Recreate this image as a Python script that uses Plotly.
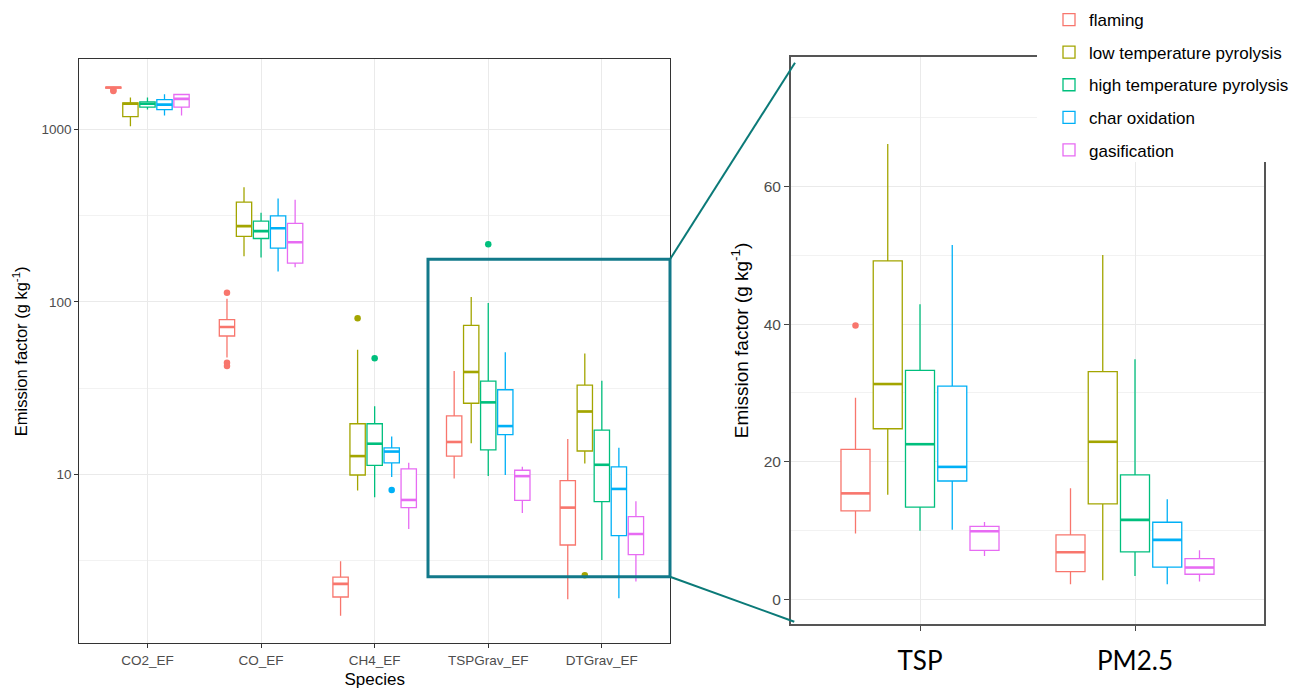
import plotly.graph_objects as go

W, H = 1295, 691

species = ["CO2_EF", "CO_EF", "CH4_EF", "TSPGrav_EF", "DTGrav_EF"]
pm_labels = ["TSP", "PM2.5"]
phases = ["flaming", "low temperature pyrolysis", "high temperature pyrolysis",
          "char oxidation", "gasification"]
colors = ["#F8766D", "#A3A500", "#00BF7D", "#00B0F6", "#E76BF3"]

# Species panel (log scale): one row per combustion phase, one column per species
sp_lower = [[1720, 47.6, 1.52, 9.5, 1.9],
            [1040, 184, 8.1, 15.2, 11.6],
            [1300, 181, 7.4, 9.8, 3.2],
            [1200, 150, 9.7, 9.95, 1.92],
            [1200, 159, 4.84, 6.0, 2.4]]
sp_q1 = [[1735, 63.5, 1.955, 12.8, 3.91],
         [1185, 240, 9.95, 25.9, 13.7],
         [1345, 233, 11.3, 13.9, 6.97],
         [1300, 205, 11.7, 17.05, 4.43],
         [1345, 168, 6.44, 7.1, 3.44]]
sp_median = [[1745, 71.6, 2.33, 15.45, 6.44],
             [1405, 275, 12.8, 39.3, 23.2],
             [1405, 257, 15.1, 26.2, 11.4],
             [1390, 267, 13.6, 19.1, 8.26],
             [1500, 221.6, 7.13, 9.8, 4.53]]
sp_q3 = [[1755, 79.0, 2.55, 21.9, 9.23],
         [1420, 379, 19.7, 73.2, 33.0],
         [1440, 294, 19.7, 34.8, 18.1],
         [1485, 315, 14.3, 31.0, 11.1],
         [1590, 285.5, 10.8, 10.6, 5.71]]
sp_upper = [[1765, 104.5, 3.15, 39.8, 16.1],
            [1530, 461, 52.9, 106.8, 50.2],
            [1530, 329, 24.9, 98.6, 35.0],
            [1595, 398, 16.6, 51.1, 14.3],
            [1600, 391, 11.7, 11.1, 7.0]]
# outliers: (phase index, species index, value)
sp_out_phase = [0, 0, 0, 0, 0, 1, 1, 2, 2, 3]
sp_out_species = [0, 0, 1, 1, 1, 2, 4, 2, 3, 2]
sp_out_value = [1665, 1690, 113, 44.5, 42.5, 80.4, 2.61, 47.2, 216, 8.14]

# Particulate panel (linear scale): columns TSP, PM2.5
pm_lower = [[9.55, 2.18], [15.2, 2.76], [9.95, 3.4], [10.1, 2.18], [6.3, 2.57]]
pm_q1 = [[12.85, 4.03], [24.8, 13.87], [13.4, 6.9], [17.2, 4.66], [7.1, 3.64]]
pm_median = [[15.4, 6.84], [31.3, 22.9], [22.55, 11.55], [19.25, 8.63], [9.9, 4.61]]
pm_q3 = [[21.8, 9.36], [49.2, 33.1], [33.3, 18.1], [31.0, 11.2], [10.6, 5.92]]
pm_upper = [[29.3, 16.15], [66.2, 50.06], [42.9, 34.9], [51.5, 14.55], [11.25, 7.13]]
pm_out_phase = [0]
pm_out_species = [0]
pm_out_value = [39.8]

DODGE = 0.15      # spacing between dodged boxes (category units)
BOX_W = 0.135     # box width (category units)


def px(x):
    return x / W


def py(y):
    return 1 - y / H


fig = go.Figure()


def add_panel(xa, ya, lower, q1, med, q3, upper, o_phase, o_cat, o_val, show_legend):
    for g, (name, col) in enumerate(zip(phases, colors)):
        pos = [i + (g - 2) * DODGE for i in range(len(med[g]))]
        fig.add_trace(go.Box(
            x=pos, q1=q1[g], median=med[g], q3=q3[g],
            lowerfence=lower[g], upperfence=upper[g],
            width=BOX_W, whiskerwidth=0, boxpoints=False,
            fillcolor="white", line=dict(color=col, width=1.3),
            name=name, legendgroup=name, showlegend=show_legend,
            xaxis=xa, yaxis=ya, hoverinfo="skip"))
        # thicker median bar, as ggplot draws it
        mx, my = [], []
        for p, m in zip(pos, med[g]):
            mx += [p - BOX_W / 2, p + BOX_W / 2, None]
            my += [m, m, None]
        fig.add_trace(go.Scatter(
            x=mx, y=my, mode="lines", line=dict(color=col, width=2.6),
            legendgroup=name, showlegend=False, xaxis=xa, yaxis=ya,
            hoverinfo="skip"))
        ox = [c + (g - 2) * DODGE for ph, c in zip(o_phase, o_cat) if ph == g]
        oy = [v for ph, v in zip(o_phase, o_val) if ph == g]
        if ox:
            fig.add_trace(go.Scatter(
                x=ox, y=oy, mode="markers",
                marker=dict(color=col, size=6.5, line=dict(width=0)),
                legendgroup=name, showlegend=False, xaxis=xa, yaxis=ya,
                hoverinfo="skip"))


add_panel("x", "y", sp_lower, sp_q1, sp_median, sp_q3, sp_upper,
          sp_out_phase, sp_out_species, sp_out_value, True)
add_panel("x2", "y2", pm_lower, pm_q1, pm_median, pm_q3, pm_upper,
          pm_out_phase, pm_out_species, pm_out_value, False)

tick_font = dict(family="Liberation Sans", size=13.5, color="#4D4D4D")
grid_major = "#EAEAEA"
grid_minor = "#F2F2F2"

fig.update_layout(
    width=W, height=H,
    margin=dict(l=0, r=0, t=0, b=0),
    paper_bgcolor="white", plot_bgcolor="white",
    boxmode="overlay",
    font=dict(family="Liberation Sans", color="black"),
    xaxis=dict(
        domain=[px(79.3), px(670)], range=[-0.6, 4.6],
        tickvals=list(range(len(species))), ticktext=species,
        showgrid=True, gridcolor=grid_major, gridwidth=1.1, zeroline=False,
        showline=True, mirror=True, linecolor="#333333", linewidth=1.2,
        ticks="outside", ticklen=4, tickcolor="#333333", tickfont=tick_font,
        title=dict(text="Species", font=dict(size=17, color="black"), standoff=6),
        anchor="y"),
    yaxis=dict(
        domain=[py(643.3), py(59.3)], type="log", range=[0.0229, 3.4054],
        tickvals=[10, 100, 1000], ticktext=["10", "100", "1000"],
        showgrid=True, gridcolor=grid_major, gridwidth=1.1, zeroline=False,
        minor=dict(tickvals=[10 ** 0.5, 10 ** 1.5, 10 ** 2.5], showgrid=True,
                   gridcolor=grid_minor, gridwidth=1, ticklen=0),
        showline=True, mirror=True, linecolor="#333333", linewidth=1.2,
        ticks="outside", ticklen=4, tickcolor="#333333", tickfont=tick_font,
        title=dict(text="Emission factor (g kg<sup>-1</sup>)",
                   font=dict(size=16.5, color="black"), standoff=9),
        anchor="x"),
    xaxis2=dict(
        domain=[px(791), px(1264)], range=[-0.6, 1.6],
        tickvals=[0, 1], ticktext=pm_labels,
        showgrid=True, gridcolor=grid_major, gridwidth=1.1, zeroline=False,
        showline=True, mirror=True, linecolor="#555555", linewidth=2,
        ticks="outside", ticklen=5, tickcolor="#444444",
        tickfont=dict(family="Lato", size=26, color="black"),
        ticklabelstandoff=7,
        anchor="y2"),
    yaxis2=dict(
        domain=[py(624.3), py(56.7)], range=[-3.64, 78.9],
        tick0=0, dtick=20,
        showgrid=True, gridcolor=grid_major, gridwidth=1.1, zeroline=False,
        minor=dict(dtick=10, showgrid=True, gridcolor=grid_minor, gridwidth=1,
                   ticklen=0),
        showline=True, mirror=True, linecolor="#555555", linewidth=2,
        ticks="outside", ticklen=5, tickcolor="#444444",
        tickfont=dict(family="Liberation Sans", size=15.5, color="#4D4D4D"),
        title=dict(text="Emission factor (g kg<sup>-1</sup>)",
                   font=dict(size=19, color="black"), standoff=10),
        anchor="x2"),
    legend=dict(
        x=px(1049), y=py(2), xanchor="left", yanchor="top",
        bgcolor="rgba(0,0,0,0)", borderwidth=0,
        font=dict(family="Liberation Sans", size=17, color="black"),
        tracegroupgap=7.5),
    shapes=[
        # legend backdrop
        dict(type="rect", xref="paper", yref="paper",
             x0=px(1037), x1=1, y0=py(162), y1=1,
             fillcolor="white", line=dict(width=0), layer="above"),
        # zoom window on the species panel
        dict(type="rect", xref="paper", yref="paper",
             x0=px(428), x1=px(670), y0=py(576.7), y1=py(259.3),
             line=dict(color="#12798A", width=3), layer="above"),
        dict(type="line", xref="paper", yref="paper",
             x0=px(670), y0=py(259.3), x1=px(795), y1=py(62.7),
             line=dict(color="#0B7A78", width=2), layer="above"),
        dict(type="line", xref="paper", yref="paper",
             x0=px(670), y0=py(576.7), x1=px(794.3), y1=py(621.7),
             line=dict(color="#0B7A78", width=2), layer="above"),
    ],
)

fig.write_html("out.html")
